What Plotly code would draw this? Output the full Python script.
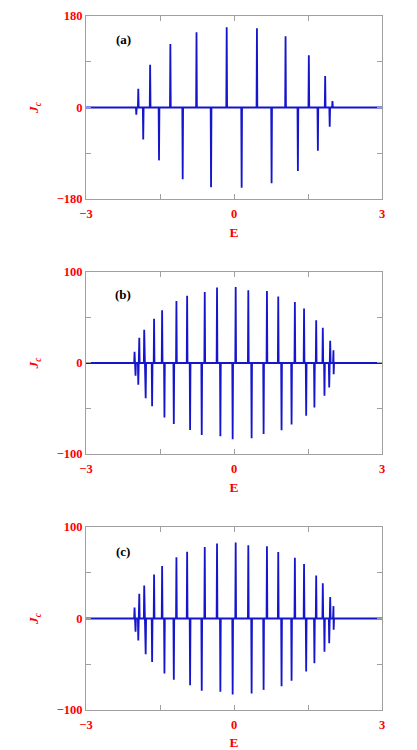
import plotly.graph_objects as go

# Panel (a): resonance positions (E) and peak currents J_c
a_E = [-1.98, -1.94, -1.84, -1.70, -1.52, -1.29, -1.04, -0.76, -0.465, -0.148,
       0.155, 0.465, 0.762, 1.045, 1.295, 1.517, 1.70, 1.848, 1.94, 1.996]
a_J = [-14, 37, -63, 84, -104, 125, -141, 148, -157, 158,
       -158, 156, -149, 140, -125, 103, -85, 62, -38, 12.5]

# Panel (b)
b_E = [-2.016, -1.996, -1.94, -1.92, -1.82, -1.79, -1.66, -1.62, -1.457, -1.41,
       -1.22, -1.167, -0.95, -0.89, -0.654, -0.593, -0.344, -0.276, -0.027, 0.034,
       0.29, 0.357, 0.60, 0.668, 0.897, 0.964, 1.167, 1.234, 1.42, 1.463,
       1.63, 1.666, 1.80, 1.834, 1.93, 1.95, 2.016, 2.02]
b_J = [12.4, -13.9, -24, 27.8, 36.6, -38.8, -47.5, 48.6, 58, -60,
       -67, 68, 74, -73.5, -79, 78, 83, -80.4, -83.7, 83.4,
       80, -82.6, -78, 79, 73, -74, -67.6, 67, 60, -58,
       -49, 47, 38.8, -36, -27, 24.5, 14, -12.4]

# Panel (c)
c_E = [-2.016, -1.996, -1.94, -1.92, -1.82, -1.79, -1.66, -1.62, -1.457, -1.41,
       -1.22, -1.167, -0.95, -0.89, -0.654, -0.593, -0.344, -0.276, -0.027, 0.034,
       0.29, 0.357, 0.60, 0.668, 0.897, 0.964, 1.167, 1.234, 1.42, 1.463,
       1.63, 1.666, 1.80, 1.834, 1.93, 1.95, 2.016, 2.02]
c_J = [12, -14.5, -24, 27, 36, -39, -47.6, 48, 57.5, -60,
       -67, 67, 73, -73, -79, 78, 82, -80, -83, 83,
       80, -82, -78, 79, 72.7, -74, -68, 66.5, 59.6, -58,
       -49, 47, 38.5, -36.4, -27, 23.6, 13.5, -12.4]

x_range = [-3, 3]
x_ticks = [-3, 0, 3]
x_minor = [-1.5, 1.5]
x_ticktext = ["\u22123", "0", "3"]
a_yticks = [-180, 0, 180]
a_yminor = [-90, 90]
a_yticktext = ["\u2212180", "0", "180"]
bc_yticks = [-100, 0, 100]
bc_yminor = [-50, 50]
bc_yticktext = ["\u2212100", "0", "100"]
labels = ["(a)", "(b)", "(c)"]

HW = 0.008  # half width of a spike base (styling)


def build_line(E, J):
    pairs = sorted(zip(E, J))
    xs, ys = [x_range[0]], [0]
    for e, j in pairs:
        xs += [e - HW, e, e + HW]
        ys += [0, j, 0]
    xs.append(x_range[1])
    ys.append(0)
    return xs, ys


fig = go.Figure()
data = [(a_E, a_J), (b_E, b_J), (c_E, c_J)]
for i, (E, J) in enumerate(data):
    xs, ys = build_line(E, J)
    suffix = "" if i == 0 else str(i + 1)
    fig.add_trace(go.Scatter(x=xs, y=ys, mode="lines",
                             line=dict(color="#1515cc", width=1.8),
                             xaxis="x" + suffix, yaxis="y" + suffix,
                             showlegend=False, hoverinfo="skip"))

red = "#ff0000"
serif = "Liberation Serif, Times New Roman, serif"
tickfont = dict(family=serif, size=12.5, color=red, weight="bold")
titlefont = dict(family=serif, size=13.5, color=red, weight="bold")

domains = [[0.7363, 1.0], [0.3689, 0.6311], [0.0, 0.2637]]
ranges = [[-180, 180], [-100, 100], [-100, 100]]
yticks = [(a_yticks, a_yticktext, a_yminor),
          (bc_yticks, bc_yticktext, bc_yminor),
          (bc_yticks, bc_yticktext, bc_yminor)]

# page body has an 8px margin, so the figure is shrunk and shifted by it
layout = dict(
    width=409, height=742,
    margin=dict(l=78, r=35, t=8, b=40, autoexpand=False),
    paper_bgcolor="white", plot_bgcolor="white",
    showlegend=False,
)

axis_common = dict(showline=True, linecolor="#a0a0a0", linewidth=1,
                   mirror="ticks", ticks="inside", ticklen=5, tickcolor="#a0a0a0",
                   showgrid=False, zeroline=False, tickfont=tickfont,
                   automargin=False)

for i in range(3):
    suffix = "" if i == 0 else str(i + 1)
    layout["xaxis" + suffix] = dict(
        axis_common, range=x_range, tickvals=x_ticks, ticktext=x_ticktext,
        minor=dict(tickvals=x_minor, ticks="inside", ticklen=5,
                   tickcolor="#a0a0a0", showgrid=False),
        anchor="y" + suffix, ticklabelstandoff=3,
        title=dict(text="E", font=titlefont, standoff=7),
    )
    tv, tt, mv = yticks[i]
    layout["yaxis" + suffix] = dict(
        axis_common, range=ranges[i], tickvals=tv, ticktext=tt,
        minor=dict(tickvals=mv, ticks="inside", ticklen=5,
                   tickcolor="#a0a0a0", showgrid=False),
        domain=domains[i], anchor="x" + suffix,
        title=dict(text="<i>J<sub>c</sub></i>", font=titlefont, standoff=14),
    )

fig.update_layout(**layout)

label_y = [0.87, 0.874, 0.865]
for i in range(3):
    suffix = "" if i == 0 else str(i + 1)
    fig.add_annotation(text=labels[i], xref="x" + suffix + " domain",
                       yref="y" + suffix + " domain", x=0.125, y=label_y[i],
                       showarrow=False, xanchor="center", yanchor="middle",
                       font=dict(family=serif, size=13, color="black", weight="bold"))

fig.write_html("out.html")
